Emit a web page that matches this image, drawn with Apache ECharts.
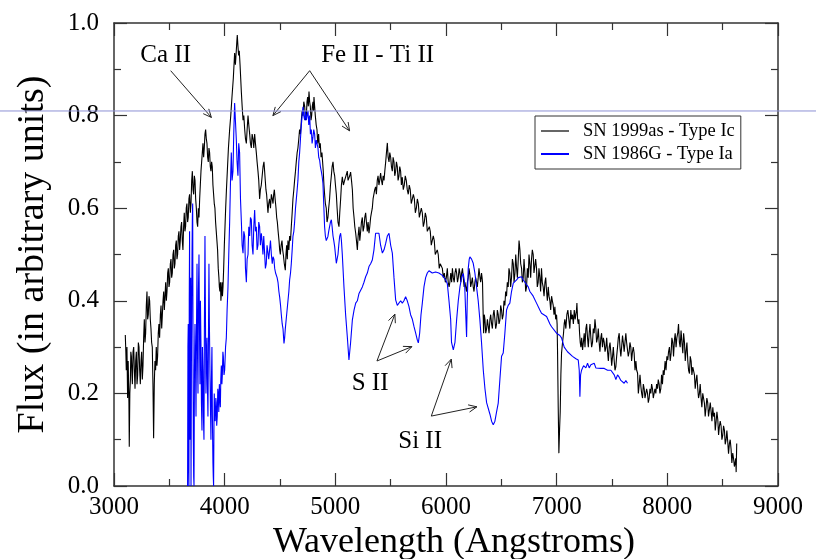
<!DOCTYPE html>
<html>
<head>
<meta charset="utf-8">
<script src="https://cdn.jsdelivr.net/npm/echarts@6/dist/echarts.min.js"></script>
<style>
  html, body { margin: 0; padding: 0; background: #fff; }
  #chart { width: 816px; height: 559px; }
</style>
</head>
<body>
<div id="chart"></div>
<script>
// SN 1999as (Type Ic) spectrum: [wavelength (Angstroms), relative flux]
const icSpectrum = [
  [3102,0.326],[3107,0.29],[3111,0.25],[3117,0.30],[3123,0.19],[3128,0.27],[3132,0.22],[3135,0.18],[3138,0.085],[3143,0.20],
  [3148,0.23],[3152,0.29],[3157,0.28],[3162,0.24],[3166,0.22],[3172,0.29],[3178,0.30],[3184,0.25],[3190,0.21],[3196,0.27],
  [3202,0.29],[3208,0.22],[3214,0.24],[3220,0.31],[3226,0.30],[3232,0.25],[3238,0.22],[3244,0.27],[3250,0.29],[3256,0.23],
  [3262,0.26],[3268,0.32],[3274,0.36],[3280,0.31],[3286,0.33],[3292,0.39],[3298,0.42],[3304,0.36],[3310,0.37],[3316,0.41],
  [3322,0.40],[3328,0.36],[3334,0.34],[3340,0.31],[3346,0.30],[3352,0.22],[3358,0.103],[3364,0.22],[3370,0.27],[3376,0.25],
  [3382,0.30],[3388,0.26],[3394,0.28],[3400,0.33],[3406,0.35],[3412,0.32],[3419,0.37],[3425,0.39],[3431,0.34],[3437,0.37],
  [3443,0.40],[3449,0.42],[3455,0.38],[3461,0.41],[3467,0.44],[3473,0.40],[3479,0.42],[3485,0.46],[3491,0.47],[3497,0.43],
  [3503,0.44],[3509,0.48],[3515,0.49],[3521,0.45],[3527,0.46],[3533,0.50],[3539,0.51],[3545,0.47],[3551,0.48],[3557,0.52],
  [3563,0.53],[3569,0.49],[3575,0.50],[3581,0.54],[3587,0.55],[3593,0.51],[3599,0.53],[3605,0.56],[3611,0.57],[3617,0.53],
  [3623,0.51],[3629,0.56],[3635,0.59],[3641,0.55],[3647,0.56],[3653,0.60],[3659,0.61],[3665,0.57],[3671,0.58],[3677,0.62],
  [3683,0.63],[3690,0.59],[3696,0.61],[3702,0.66],[3708,0.68],[3714,0.64],[3720,0.63],[3726,0.67],[3732,0.66],[3738,0.62],
  [3744,0.60],[3750,0.57],[3756,0.56],[3762,0.60],[3768,0.58],[3774,0.62],[3780,0.65],[3786,0.68],[3792,0.70],[3798,0.72],
  [3804,0.74],[3810,0.71],[3816,0.73],[3822,0.76],[3828,0.77],[3834,0.75],[3840,0.74],[3846,0.71],[3852,0.70],[3858,0.73],
  [3864,0.72],[3870,0.69],[3876,0.68],[3882,0.70],[3888,0.69],[3894,0.65],[3900,0.63],[3906,0.61],[3912,0.60],[3918,0.57],
  [3924,0.55],[3930,0.53],[3936,0.51],[3942,0.47],[3948,0.45],[3952,0.43],[3957,0.42],[3962,0.44],[3966,0.40],[3971,0.42],
  [3976,0.44],[3980,0.41],[3985,0.43],[3991,0.47],[3997,0.52],[4003,0.56],[4009,0.60],[4016,0.64],[4024,0.68],[4034,0.73],
  [4045,0.77],[4055,0.80],[4066,0.84],[4078,0.88],[4090,0.935],[4097,0.91],[4105,0.94],[4110,0.96],[4114,0.974],[4120,0.95],
  [4126,0.93],[4132,0.94],[4139,0.91],[4145,0.88],[4151,0.85],[4158,0.82],[4166,0.79],[4173,0.80],[4181,0.77],[4188,0.75],
  [4196,0.74],[4203,0.77],[4211,0.80],[4218,0.78],[4226,0.76],[4233,0.74],[4241,0.73],[4248,0.76],[4256,0.75],[4263,0.73],
  [4271,0.76],[4278,0.74],[4286,0.72],[4293,0.70],[4301,0.68],[4308,0.66],[4316,0.62],[4323,0.64],[4331,0.65],[4339,0.67],
  [4347,0.69],[4355,0.70],[4361,0.68],[4367,0.66],[4373,0.64],[4379,0.63],[4385,0.61],[4391,0.59],[4398,0.61],[4406,0.62],
  [4414,0.60],[4422,0.63],[4430,0.62],[4437,0.61],[4443,0.63],[4449,0.64],[4456,0.62],[4464,0.60],[4470,0.58],[4476,0.57],
  [4483,0.55],[4491,0.53],[4497,0.51],[4503,0.50],[4510,0.52],[4518,0.53],[4524,0.51],[4530,0.50],[4539,0.48],[4548,0.466],
  [4554,0.50],[4560,0.52],[4566,0.49],[4572,0.53],[4580,0.51],[4587,0.54],[4595,0.53],[4602,0.56],[4610,0.59],[4617,0.62],
  [4625,0.64],[4632,0.66],[4640,0.68],[4647,0.70],[4655,0.72],[4662,0.73],[4670,0.75],[4677,0.77],[4685,0.76],[4693,0.79],
  [4700,0.81],[4708,0.80],[4715,0.83],[4723,0.82],[4730,0.79],[4738,0.80],[4744,0.83],[4750,0.84],[4756,0.82],[4762,0.852],
  [4768,0.83],[4774,0.82],[4780,0.79],[4786,0.80],[4792,0.82],[4798,0.83],[4803,0.81],[4807,0.84],[4813,0.82],[4819,0.80],
  [4827,0.78],[4834,0.77],[4841,0.74],[4849,0.76],[4856,0.73],[4864,0.74],[4871,0.71],[4879,0.72],[4885,0.70],[4891,0.68],
  [4897,0.65],[4903,0.63],[4910,0.61],[4918,0.60],[4925,0.57],[4933,0.58],[4940,0.60],[4948,0.62],[4956,0.65],[4964,0.67],
  [4971,0.69],[4979,0.70],[4986,0.68],[4994,0.67],[5001,0.65],[5009,0.63],[5016,0.60],[5024,0.57],[5033,0.56],[5040,0.59],
  [5048,0.62],[5055,0.65],[5063,0.668],[5073,0.65],[5084,0.66],[5096,0.67],[5108,0.68],[5115,0.66],[5123,0.66],[5130,0.67],
  [5138,0.678],[5146,0.66],[5154,0.64],[5161,0.60],[5169,0.58],[5176,0.56],[5184,0.546],[5191,0.53],[5199,0.51],[5206,0.54],
  [5214,0.56],[5221,0.53],[5229,0.55],[5236,0.57],[5244,0.58],[5251,0.55],[5259,0.56],[5266,0.58],[5274,0.59],[5281,0.57],
  [5289,0.55],[5296,0.57],[5304,0.546],[5311,0.56],[5319,0.58],[5326,0.59],[5334,0.60],[5341,0.62],[5349,0.62],[5356,0.64],
  [5364,0.646],[5371,0.63],[5379,0.66],[5386,0.67],[5394,0.65],[5401,0.66],[5409,0.676],[5417,0.66],[5425,0.65],[5432,0.67],
  [5440,0.66],[5447,0.68],[5455,0.70],[5462,0.72],[5470,0.741],[5477,0.71],[5485,0.70],[5492,0.72],[5500,0.71],[5507,0.69],
  [5515,0.68],[5522,0.71],[5530,0.70],[5537,0.67],[5545,0.68],[5552,0.70],[5560,0.69],[5567,0.66],[5575,0.67],[5582,0.69],
  [5590,0.68],[5597,0.65],[5605,0.667],[5614,0.64],[5623,0.65],[5632,0.67],[5641,0.66],[5650,0.64],[5659,0.63],[5668,0.65],
  [5677,0.64],[5686,0.61],[5696,0.62],[5705,0.63],[5714,0.62],[5723,0.59],[5732,0.60],[5741,0.62],[5750,0.61],[5759,0.58],
  [5768,0.58],[5777,0.60],[5786,0.59],[5795,0.56],[5804,0.57],[5813,0.59],[5822,0.58],[5831,0.55],[5840,0.55],[5849,0.56],
  [5858,0.55],[5867,0.52],[5876,0.52],[5885,0.54],[5894,0.53],[5903,0.50],[5912,0.50],[5921,0.51],[5930,0.50],[5939,0.47],
  [5948,0.48],[5957,0.48],[5967,0.47],[5976,0.45],[5985,0.46],[5994,0.44],[6003,0.45],[6012,0.47],[6020,0.44],[6028,0.43],
  [6035,0.44],[6043,0.46],[6051,0.44],[6058,0.47],[6066,0.45],[6074,0.44],[6081,0.46],[6089,0.47],[6096,0.46],[6104,0.44],
  [6111,0.45],[6119,0.47],[6126,0.46],[6134,0.44],[6141,0.46],[6149,0.47],[6156,0.45],[6164,0.43],[6171,0.44],[6178,0.43],
  [6186,0.42],[6193,0.44],[6201,0.45],[6208,0.47],[6216,0.456],[6223,0.43],[6231,0.44],[6238,0.45],[6246,0.43],[6253,0.42],
  [6261,0.44],[6268,0.45],[6276,0.44],[6283,0.43],[6291,0.45],[6298,0.47],[6306,0.452],[6313,0.44],[6321,0.46],[6326,0.45],
  [6330,0.44],[6335,0.38],[6340,0.33],[6346,0.37],[6352,0.36],[6359,0.33],[6367,0.34],[6374,0.36],[6382,0.345],[6389,0.33],
  [6397,0.36],[6404,0.37],[6412,0.35],[6419,0.34],[6427,0.37],[6434,0.38],[6442,0.36],[6449,0.34],[6457,0.35],[6464,0.38],
  [6472,0.37],[6479,0.35],[6487,0.358],[6494,0.39],[6502,0.38],[6509,0.36],[6517,0.37],[6524,0.40],[6532,0.39],[6539,0.42],
  [6547,0.41],[6554,0.44],[6562,0.43],[6569,0.47],[6577,0.46],[6584,0.43],[6592,0.45],[6600,0.49],[6608,0.48],[6615,0.44],
  [6623,0.46],[6630,0.50],[6638,0.47],[6645,0.45],[6653,0.49],[6660,0.53],[6668,0.51],[6675,0.48],[6683,0.47],[6690,0.44],
  [6698,0.45],[6705,0.49],[6713,0.46],[6720,0.42],[6728,0.43],[6735,0.47],[6743,0.45],[6750,0.50],[6758,0.48],[6765,0.45],
  [6773,0.49],[6780,0.51],[6788,0.50],[6795,0.46],[6803,0.46],[6810,0.49],[6818,0.47],[6825,0.43],[6833,0.44],[6840,0.47],
  [6848,0.45],[6855,0.42],[6863,0.47],[6870,0.44],[6878,0.43],[6886,0.41],[6894,0.44],[6901,0.45],[6909,0.42],[6916,0.40],
  [6924,0.43],[6931,0.41],[6939,0.40],[6946,0.38],[6954,0.41],[6961,0.40],[6969,0.39],[6976,0.37],[6984,0.387],[6991,0.36],
  [6999,0.37],[7004,0.35],[7008,0.29],[7014,0.17],[7020,0.071],[7026,0.12],[7032,0.16],[7038,0.24],[7044,0.287],[7053,0.31],
  [7062,0.33],[7068,0.35],[7074,0.36],[7083,0.34],[7092,0.37],[7101,0.38],[7110,0.36],[7119,0.34],[7128,0.38],[7135,0.36],
  [7143,0.37],[7151,0.35],[7159,0.38],[7167,0.36],[7174,0.36],[7179,0.38],[7183,0.395],[7189,0.36],[7195,0.35],[7201,0.36],
  [7207,0.33],[7213,0.31],[7219,0.30],[7226,0.32],[7234,0.294],[7241,0.31],[7249,0.33],[7256,0.30],[7264,0.34],[7271,0.35],
  [7279,0.32],[7286,0.30],[7294,0.33],[7301,0.35],[7309,0.32],[7316,0.30],[7324,0.31],[7331,0.34],[7339,0.33],[7346,0.36],
  [7354,0.34],[7361,0.31],[7369,0.32],[7376,0.34],[7384,0.31],[7391,0.29],[7399,0.32],[7406,0.33],[7414,0.30],[7422,0.32],
  [7430,0.31],[7437,0.29],[7445,0.30],[7452,0.32],[7460,0.29],[7467,0.27],[7475,0.30],[7482,0.31],[7490,0.287],[7497,0.26],
  [7505,0.28],[7512,0.30],[7520,0.27],[7527,0.25],[7535,0.258],[7542,0.28],[7550,0.30],[7557,0.32],[7565,0.33],[7572,0.30],
  [7580,0.28],[7587,0.30],[7595,0.325],[7602,0.31],[7610,0.29],[7617,0.31],[7625,0.33],[7632,0.31],[7640,0.31],[7647,0.28],
  [7655,0.29],[7662,0.31],[7670,0.30],[7677,0.27],[7685,0.29],[7692,0.30],[7700,0.287],[7708,0.25],[7716,0.27],[7723,0.25],
  [7731,0.244],[7738,0.20],[7746,0.22],[7753,0.24],[7761,0.215],[7768,0.20],[7776,0.19],[7783,0.22],[7791,0.21],[7798,0.19],
  [7806,0.186],[7813,0.21],[7821,0.20],[7828,0.18],[7836,0.19],[7843,0.21],[7851,0.20],[7858,0.22],[7866,0.21],[7873,0.19],
  [7881,0.19],[7888,0.21],[7896,0.20],[7903,0.22],[7911,0.21],[7918,0.23],[7926,0.22],[7933,0.20],[7941,0.21],[7948,0.24],
  [7956,0.22],[7963,0.25],[7971,0.24],[7980,0.27],[7988,0.25],[7996,0.28],[8004,0.272],[8011,0.29],[8019,0.30],[8026,0.27],
  [8034,0.287],[8041,0.32],[8049,0.31],[8056,0.28],[8064,0.315],[8071,0.33],[8079,0.30],[8086,0.32],[8094,0.330],[8101,0.35],
  [8109,0.31],[8116,0.30],[8124,0.336],[8132,0.31],[8140,0.287],[8147,0.33],[8155,0.31],[8162,0.27],[8170,0.293],[8177,0.31],
  [8185,0.27],[8192,0.25],[8200,0.243],[8207,0.28],[8215,0.27],[8222,0.24],[8230,0.257],[8237,0.26],[8245,0.24],[8252,0.21],
  [8260,0.229],[8267,0.24],[8275,0.21],[8282,0.19],[8290,0.20],[8297,0.22],[8305,0.19],[8312,0.17],[8320,0.20],[8327,0.19],
  [8335,0.179],[8342,0.15],[8350,0.17],[8357,0.19],[8365,0.18],[8372,0.15],[8380,0.165],[8388,0.18],[8396,0.16],[8403,0.14],
  [8411,0.17],[8418,0.15],[8426,0.158],[8433,0.12],[8441,0.14],[8448,0.16],[8456,0.143],[8463,0.11],[8471,0.13],[8478,0.14],
  [8486,0.129],[8493,0.10],[8501,0.11],[8508,0.13],[8516,0.12],[8523,0.09],[8531,0.10],[8538,0.12],[8546,0.095],[8553,0.07],
  [8561,0.092],[8568,0.10],[8576,0.08],[8583,0.05],[8591,0.071],[8598,0.06],[8606,0.042],[8612,0.05],[8618,0.06],[8622,0.03],
  [8627,0.092]
];

// SN 1986G (Type Ia) spectrum: [wavelength (Angstroms), relative flux]
const iaSpectrum = [
  [3665,0.0],[3668,0.30],[3671,0.35],[3674,0.05],[3677,0.0],[3680,0.40],[3683,0.55],[3687,0.10],[3690,0.20],[3693,0.45],
  [3696,0.0],[3700,0.30],[3705,0.50],[3708,0.58],[3711,0.61],[3714,0.30],[3717,0.10],[3720,0.02],[3723,0.0],[3727,0.25],
  [3732,0.35],[3736,0.28],[3741,0.15],[3745,0.32],[3750,0.48],[3754,0.30],[3759,0.20],[3763,0.42],[3768,0.50],[3772,0.35],
  [3777,0.22],[3781,0.40],[3786,0.30],[3790,0.18],[3795,0.12],[3799,0.30],[3804,0.25],[3808,0.15],[3813,0.10],[3817,0.35],
  [3822,0.54],[3826,0.38],[3831,0.20],[3835,0.28],[3840,0.32],[3844,0.22],[3849,0.15],[3853,0.30],[3858,0.48],[3862,0.35],
  [3867,0.25],[3871,0.18],[3876,0.10],[3880,0.22],[3885,0.30],[3889,0.15],[3894,0.05],[3897,0.02],[3900,0.0],[3903,0.12],
  [3906,0.20],[3910,0.15],[3915,0.14],[3920,0.19],[3924,0.18],[3928,0.13],[3933,0.15],[3938,0.21],[3942,0.20],[3947,0.16],
  [3952,0.22],[3956,0.19],[3961,0.17],[3965,0.23],[3970,0.26],[3975,0.22],[3979,0.24],[3984,0.29],[3988,0.28],[3994,0.24],
  [4000,0.25],[4008,0.30],[4015,0.32],[4022,0.38],[4030,0.43],[4037,0.50],[4045,0.57],[4052,0.65],[4060,0.72],[4067,0.66],
  [4075,0.68],[4082,0.76],[4090,0.827],[4097,0.79],[4105,0.75],[4112,0.70],[4120,0.67],[4127,0.74],[4135,0.72],[4143,0.62],
  [4151,0.57],[4158,0.52],[4166,0.503],[4173,0.55],[4181,0.54],[4188,0.47],[4196,0.44],[4203,0.49],[4211,0.50],[4218,0.56],
  [4226,0.54],[4233,0.58],[4241,0.575],[4248,0.52],[4256,0.50],[4263,0.56],[4271,0.596],[4278,0.55],[4286,0.56],[4293,0.51],
  [4301,0.52],[4308,0.57],[4316,0.56],[4323,0.52],[4331,0.546],[4338,0.53],[4346,0.50],[4353,0.54],[4361,0.503],[4368,0.47],
  [4376,0.48],[4383,0.52],[4391,0.52],[4398,0.49],[4406,0.51],[4414,0.53],[4422,0.50],[4430,0.48],[4437,0.495],[4445,0.49],
  [4452,0.47],[4460,0.46],[4467,0.459],[4474,0.45],[4482,0.44],[4490,0.42],[4497,0.408],[4505,0.39],[4512,0.37],[4520,0.35],
  [4527,0.34],[4536,0.308],[4542,0.32],[4548,0.34],[4560,0.37],[4572,0.40],[4580,0.42],[4587,0.445],[4595,0.46],[4602,0.48],
  [4610,0.51],[4617,0.539],[4625,0.55],[4632,0.57],[4640,0.60],[4647,0.618],[4655,0.64],[4662,0.66],[4670,0.70],[4677,0.719],
  [4685,0.75],[4693,0.78],[4700,0.80],[4708,0.819],[4715,0.80],[4723,0.79],[4730,0.81],[4738,0.79],[4745,0.80],[4753,0.81],
  [4760,0.78],[4768,0.80],[4775,0.76],[4783,0.77],[4790,0.74],[4798,0.754],[4805,0.77],[4813,0.76],[4820,0.73],[4828,0.747],
  [4835,0.75],[4843,0.73],[4850,0.71],[4858,0.704],[4865,0.69],[4873,0.68],[4880,0.67],[4888,0.654],[4895,0.61],[4903,0.56],
  [4910,0.54],[4918,0.53],[4925,0.53],[4933,0.539],[4940,0.55],[4948,0.56],[4956,0.57],[4964,0.575],[4971,0.56],[4979,0.54],
  [4986,0.53],[4994,0.517],[5001,0.50],[5009,0.481],[5016,0.49],[5024,0.50],[5031,0.52],[5039,0.539],[5048,0.546],[5055,0.53],
  [5063,0.50],[5078,0.43],[5093,0.37],[5108,0.323],[5123,0.272],[5138,0.31],[5154,0.359],[5169,0.38],[5184,0.395],[5199,0.40],
  [5214,0.416],[5229,0.42],[5244,0.43],[5259,0.44],[5274,0.452],[5289,0.46],[5304,0.474],[5319,0.48],[5334,0.488],[5349,0.51],
  [5364,0.546],[5379,0.55],[5394,0.546],[5409,0.52],[5425,0.503],[5440,0.51],[5455,0.524],[5470,0.54],[5485,0.546],[5500,0.52],
  [5515,0.503],[5530,0.45],[5545,0.402],[5560,0.39],[5575,0.388],[5590,0.40],[5605,0.395],[5620,0.40],[5635,0.409],[5650,0.40],
  [5665,0.388],[5680,0.37],[5696,0.36],[5711,0.344],[5726,0.33],[5741,0.315],[5750,0.309],[5762,0.33],[5774,0.37],[5786,0.395],
  [5801,0.43],[5816,0.45],[5831,0.46],[5846,0.465],[5876,0.46],[5906,0.462],[5936,0.46],[5967,0.455],[5982,0.452],[5997,0.445],
  [6012,0.437],[6027,0.40],[6042,0.36],[6050,0.31],[6066,0.294],[6081,0.31],[6096,0.359],[6111,0.40],[6126,0.43],[6141,0.45],
  [6156,0.459],[6168,0.44],[6177,0.38],[6186,0.322],[6192,0.40],[6201,0.47],[6210,0.49],[6216,0.495],[6231,0.49],[6246,0.481],
  [6261,0.46],[6276,0.43],[6291,0.40],[6306,0.359],[6321,0.31],[6337,0.25],[6352,0.21],[6367,0.18],[6382,0.179],[6397,0.155],
  [6412,0.14],[6427,0.132],[6442,0.14],[6457,0.16],[6472,0.179],[6487,0.23],[6502,0.28],[6517,0.287],[6532,0.33],[6547,0.38],
  [6562,0.39],[6577,0.395],[6592,0.42],[6608,0.438],[6623,0.44],[6638,0.445],[6653,0.45],[6668,0.452],[6683,0.452],[6698,0.445],
  [6713,0.44],[6728,0.438],[6743,0.43],[6758,0.42],[6773,0.416],[6788,0.41],[6818,0.395],[6848,0.38],[6863,0.373],[6878,0.37],
  [6909,0.366],[6939,0.35],[6954,0.344],[6969,0.34],[6999,0.33],[7029,0.325],[7044,0.32],[7068,0.30],[7098,0.29],[7113,0.288],
  [7143,0.28],[7174,0.275],[7195,0.272],[7204,0.25],[7210,0.193],[7216,0.24],[7225,0.25],[7243,0.26],[7264,0.255],[7279,0.265],
  [7294,0.255],[7309,0.262],[7324,0.258],[7339,0.265],[7354,0.255],[7369,0.258],[7399,0.254],[7430,0.254],[7460,0.25],[7490,0.25],
  [7505,0.254],[7520,0.24],[7535,0.23],[7550,0.24],[7565,0.235],[7580,0.228],[7595,0.232],[7610,0.222],[7625,0.228],[7640,0.222]
];

// Axis ticks
const xTicks = [3000, 4000, 5000, 6000, 7000, 8000, 9000];
const yTicks = [0.0, 0.2, 0.4, 0.6, 0.8, 1.0];

// Line identifications: label, label anchor, arrow apex and arrow tips (wavelength, flux)
const lineIds = [
  { text: 'Ca II',         at: [3467, 0.930], from: [3512, 0.897], to: [[3880, 0.796]] },
  { text: 'Fe II - Ti II', at: [5382, 0.929], from: [4768, 0.897], to: [[4436, 0.800], [5129, 0.767]] },
  { text: 'S II',          at: [5314, 0.221], from: [5376, 0.270], to: [[5538, 0.371], [5692, 0.301]] },
  { text: 'Si II',         at: [5766, 0.097], from: [5867, 0.151], to: [[6048, 0.274], [6279, 0.171]] }
];

const SERIF = 'Liberation Serif, Times New Roman, serif';
const AXIS_COLOR = '#333';

const chart = echarts.init(document.getElementById('chart'), null, { renderer: 'canvas' });

const baseAxis = {
  type: 'value',
  axisLine: { show: true, onZero: false, lineStyle: { color: AXIS_COLOR, width: 1.5 } },
  axisTick: { show: true, inside: true, length: 13, lineStyle: { color: AXIS_COLOR, width: 1.2 } },
  minorTick: { show: true, splitNumber: 2, length: 7, lineStyle: { color: AXIS_COLOR, width: 1.2 } },
  splitLine: { show: false }
};

const xMin = xTicks[0], xMax = xTicks[xTicks.length - 1];
const yMin = yTicks[0], yMax = yTicks[yTicks.length - 1];

chart.setOption({
  animation: false,
  backgroundColor: '#fff',
  grid: { left: 114, right: 38, top: 23, bottom: 73, containLabel: false, outerBoundsMode: 'none' },
  xAxis: [
    Object.assign({}, baseAxis, {
      min: xMin, max: xMax, interval: xTicks[1] - xTicks[0],
      axisLabel: { fontFamily: SERIF, fontSize: 25, color: '#000', margin: 9, formatter: v => String(v) },
      name: 'Wavelength (Angstroms)', nameLocation: 'middle', nameGap: 36,
      nameTextStyle: { fontFamily: SERIF, fontSize: 36, color: '#000', padding: [0, 0, 0, 16] }
    }),
    Object.assign({}, baseAxis, {
      position: 'top', min: xMin, max: xMax, interval: xTicks[1] - xTicks[0],
      axisLabel: { show: false }
    })
  ],
  yAxis: [
    Object.assign({}, baseAxis, {
      min: yMin, max: yMax, interval: yTicks[1] - yTicks[0],
      axisLabel: { fontFamily: SERIF, fontSize: 25, color: '#000', margin: 15,
                   formatter: v => v.toFixed(1) },
      name: 'Flux (in arbitrary units)', nameLocation: 'middle', nameGap: 62,
      nameTextStyle: { fontFamily: SERIF, fontSize: 38, color: '#000' }
    }),
    Object.assign({}, baseAxis, {
      position: 'right', min: yMin, max: yMax, interval: yTicks[1] - yTicks[0],
      axisLabel: { show: false }
    })
  ],
  legend: {
    orient: 'vertical', left: 535, top: 116,
    backgroundColor: '#fff', borderColor: AXIS_COLOR, borderWidth: 1,
    padding: [5, 6, 5, 6], itemWidth: 28, itemHeight: 2, itemGap: 3, icon: 'rect',
    textStyle: { fontFamily: SERIF, fontSize: 18.5, color: '#000', lineHeight: 20, padding: [0, 0, 0, 9] },
    data: [
      { name: 'SN 1999as - Type Ic', itemStyle: { color: '#666' } },
      { name: 'SN 1986G - Type Ia', itemStyle: { color: '#0000ff' } }
    ]
  },
  series: [
    {
      name: 'SN 1999as - Type Ic', type: 'line', xAxisIndex: 0, yAxisIndex: 0,
      data: icSpectrum, showSymbol: false, color: '#000',
      lineStyle: { color: '#000', width: 1.1 }, z: 2
    },
    {
      name: 'SN 1986G - Type Ia', type: 'line', xAxisIndex: 0, yAxisIndex: 0,
      data: iaSpectrum, showSymbol: false, color: '#0000ff',
      lineStyle: { color: '#0000ff', width: 1.1 }, z: 3
    }
  ]
});

// Annotations placed from data coordinates
function px(p) { return chart.convertToPixel({ xAxisIndex: 0, yAxisIndex: 0 }, p); }

function arrowShapes(a, b) {
  const ang = Math.atan2(b[1] - a[1], b[0] - a[0]);
  const L = 9, spread = 0.42;
  const h1 = [b[0] - L * Math.cos(ang - spread), b[1] - L * Math.sin(ang - spread)];
  const h2 = [b[0] - L * Math.cos(ang + spread), b[1] - L * Math.sin(ang + spread)];
  const style = { stroke: '#222', lineWidth: 1, fill: null };
  return [
    { type: 'polyline', shape: { points: [a, b] }, style, silent: true, z: 10 },
    { type: 'polyline', shape: { points: [h1, b, h2] }, style, silent: true, z: 10 }
  ];
}

const graphics = [];
lineIds.forEach(id => {
  const c = px(id.at);
  graphics.push({
    type: 'text', x: c[0], y: c[1], z: 10, silent: true,
    style: { text: id.text, fontFamily: SERIF, fontSize: 25, fill: '#000', align: 'center', verticalAlign: 'middle' }
  });
  const a = px(id.from);
  id.to.forEach(t => { arrowShapes(a, px(t)).forEach(g => graphics.push(g)); });
});

// Thin guide rule across the full width at flux 0.81
const guideY = px([xMin, 0.81])[1];
graphics.push({
  type: 'line', shape: { x1: 0, y1: guideY, x2: 816, y2: guideY }, z: 20, silent: true,
  style: { stroke: '#8c90d4', lineWidth: 1 }
});

chart.setOption({ graphic: graphics });
</script>
</body>
</html>
